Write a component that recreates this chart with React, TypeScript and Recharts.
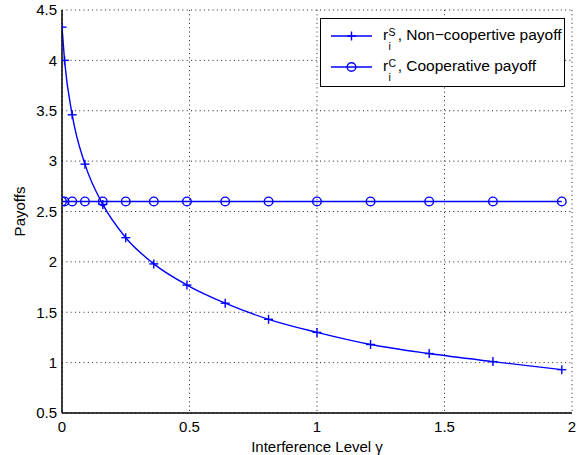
import React from 'react';
import { LineChart, Line, XAxis, YAxis, CartesianGrid, Legend, Label } from 'recharts';

// ---- data ----
const gamma = [0, 0.01, 0.04, 0.09, 0.16, 0.25, 0.36, 0.49, 0.64, 0.81, 1, 1.21, 1.44, 1.69, 1.96];
const nonCooperative = [4.33, 4.0, 3.46, 2.97, 2.57, 2.24, 1.98, 1.77, 1.59, 1.43, 1.3, 1.18, 1.09, 1.01, 0.93];
const cooperative = [2.6, 2.6, 2.6, 2.6, 2.6, 2.6, 2.6, 2.6, 2.6, 2.6, 2.6, 2.6, 2.6, 2.6, 2.6];
const xTicks = [0, 0.5, 1, 1.5, 2];
const yTicks = [0.5, 1, 1.5, 2, 2.5, 3, 3.5, 4, 4.5];
const xLabel = 'Interference Level γ';
const yLabel = 'Payoffs';
const legendItems = [
  { key: 'nonCoop', sup: 'S', name: 'Non−coopertive payoff', marker: 'plus' },
  { key: 'coop', sup: 'C', name: 'Cooperative payoff', marker: 'circle' },
];

const data = gamma.map((g, i) => ({ gamma: g, nonCoop: nonCooperative[i], coop: cooperative[i] }));

const BLUE = '#0000ff';
const FONT = '"Liberation Sans", Arial, Helvetica, sans-serif';
const LW = 1.4;

const PlusDot = (props: any) => {
  const { cx, cy, index } = props;
  if (cx == null || cy == null) return <g key={`p${index}`} />;
  const h = 4.5;
  return (
    <g key={`p${index}`}>
      <line x1={cx - h} x2={cx + h} y1={cy} y2={cy} stroke={BLUE} strokeWidth={LW} />
      <line x1={cx} x2={cx} y1={cy - h} y2={cy + h} stroke={BLUE} strokeWidth={LW} />
    </g>
  );
};

const CircleDot = (props: any) => {
  const { cx, cy, index } = props;
  if (cx == null || cy == null) return <g key={`c${index}`} />;
  return <circle key={`c${index}`} cx={cx} cy={cy} r={4.3} fill="none" stroke={BLUE} strokeWidth={LW} />;
};

const NoTick = () => <g />;

const LegendBox = () => (
  <div
    style={{
      position: 'relative',
      width: 243,
      height: 67,
      border: '1.5px solid #000',
      background: '#fff',
      fontFamily: FONT,
      fontSize: 15.5,
      color: '#000',
    }}
  >
    {legendItems.map((item, i) => {
      const lineY = 17 + 31 * i;
      return (
        <div key={item.key} style={{ position: 'absolute', left: 0, top: 0, width: 243, height: 67 }}>
          <svg width={60} height={67} style={{ position: 'absolute', left: 0, top: 0 }}>
            <line x1={10} x2={51} y1={lineY} y2={lineY} stroke={BLUE} strokeWidth={LW} />
            {item.marker === 'plus' ? (
              <g>
                <line x1={26} x2={35} y1={lineY} y2={lineY} stroke={BLUE} strokeWidth={LW} />
                <line x1={30.5} x2={30.5} y1={lineY - 4.5} y2={lineY + 4.5} stroke={BLUE} strokeWidth={LW} />
              </g>
            ) : (
              <circle cx={30.5} cy={lineY} r={4.3} fill="none" stroke={BLUE} strokeWidth={LW} />
            )}
          </svg>
          <div
            style={{
              position: 'absolute',
              left: 62,
              top: lineY - 8.6,
              lineHeight: '15.5px',
              whiteSpace: 'nowrap',
            }}
          >
            <span style={{ position: 'relative', display: 'inline-block' }}>
              r
              <span style={{ position: 'absolute', left: 5.5, top: 0.4, fontSize: 10.5, lineHeight: '8px' }}>{item.sup}</span>
              <span style={{ position: 'absolute', left: 5.5, top: 14.5, fontSize: 10.5, lineHeight: '8px' }}>i</span>
            </span>
            <span style={{ marginLeft: 9.5 }}>{`, ${item.name}`}</span>
          </div>
        </div>
      );
    })}
  </div>
);

export default function App() {
  const tickStyle = { fill: '#000', fontSize: 15, fontFamily: FONT };
  return (
    <div style={{ position: 'absolute', left: 0, top: 0, width: 579, height: 455, background: '#fff', fontFamily: FONT }}>
      <LineChart width={579} height={455} data={data} margin={{ top: 10, right: 7, bottom: 0, left: 0 }}>
        <CartesianGrid
          xAxisId="main"
          yAxisId="main"
          stroke="#222"
          strokeDasharray="1 3.3"
          strokeWidth={1}
        />
        <XAxis
          xAxisId="main"
          dataKey="gamma"
          type="number"
          domain={[0, 2]}
          ticks={xTicks}
          interval={0}
          allowDataOverflow
          height={42}
          tickLine={false}
          tickSize={5}
          tickMargin={3}
          axisLine={{ stroke: '#000', strokeWidth: 1.5 }}
          tick={tickStyle}
        >
          <Label value={xLabel} position="insideBottom" offset={3} fill="#000" fontSize={15} fontFamily={FONT} />
        </XAxis>
        <XAxis
          xAxisId="bottomTicks"
          dataKey="gamma"
          type="number"
          domain={[0, 2]}
          ticks={xTicks}
          interval={0}
          height={0}
          mirror
          tick={NoTick}
          tickSize={5}
          tickLine={{ stroke: '#000', strokeWidth: 1.2 }}
          axisLine={false}
        />
        <XAxis
          xAxisId="top"
          orientation="top"
          dataKey="gamma"
          type="number"
          domain={[0, 2]}
          ticks={xTicks}
          interval={0}
          height={0}
          mirror
          tick={NoTick}
          tickSize={5}
          tickLine={{ stroke: '#000', strokeWidth: 1.2 }}
          axisLine={{ stroke: '#000', strokeWidth: 1.5 }}
        />
        <YAxis
          yAxisId="main"
          type="number"
          domain={[0.5, 4.5]}
          ticks={yTicks}
          interval={0}
          allowDataOverflow
          width={62}
          tickLine={false}
          tickSize={5}
          tickMargin={0}
          axisLine={{ stroke: '#000', strokeWidth: 1.5 }}
          tick={tickStyle}
        >
          <Label value={yLabel} position="center" angle={-90} dx={-11} fill="#000" fontSize={15} fontFamily={FONT} />
        </YAxis>
        <YAxis
          yAxisId="leftTicks"
          type="number"
          domain={[0.5, 4.5]}
          ticks={yTicks}
          interval={0}
          width={0}
          mirror
          tick={NoTick}
          tickSize={5}
          tickLine={{ stroke: '#000', strokeWidth: 1.2 }}
          axisLine={false}
        />
        <YAxis
          yAxisId="right"
          orientation="right"
          type="number"
          domain={[0.5, 4.5]}
          ticks={yTicks}
          interval={0}
          width={0}
          mirror
          tick={NoTick}
          tickSize={5}
          tickLine={{ stroke: '#000', strokeWidth: 1.2 }}
          axisLine={{ stroke: '#000', strokeWidth: 1.5 }}
        />
        <Line
          xAxisId="main"
          yAxisId="main"
          dataKey="nonCoop"
          type="monotone"
          stroke={BLUE}
          strokeWidth={LW}
          dot={PlusDot}
          activeDot={false}
          isAnimationActive={false}
        />
        <Line
          xAxisId="main"
          yAxisId="main"
          dataKey="coop"
          type="linear"
          stroke={BLUE}
          strokeWidth={LW}
          dot={CircleDot}
          activeDot={false}
          isAnimationActive={false}
        />
        <Legend
          layout="vertical"
          align="center"
          verticalAlign="middle"
          wrapperStyle={{ left: 320, top: 18, width: 246, height: 70 }}
          content={() => <LegendBox />}
        />
      </LineChart>
    </div>
  );
}
